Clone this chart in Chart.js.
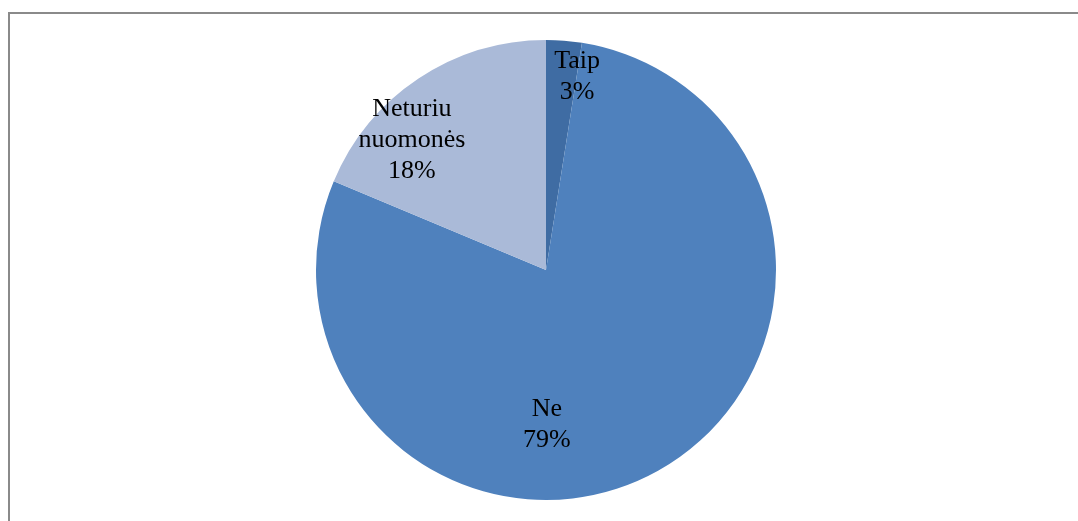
<!DOCTYPE html>
<html>
<head>
<meta charset="utf-8">
<script src="https://cdn.jsdelivr.net/npm/chart.js@4.4.0/dist/chart.umd.min.js"></script>
<style>
  html, body { margin: 0; padding: 0; background: #ffffff; }
  #wrap { position: relative; width: 1078px; height: 521px; overflow: hidden; }
  #frame { position: absolute; left: 8px; top: 12px; width: 1080px; height: 520px;
           border-left: 2px solid #8a8a8a; border-top: 2px solid #8a8a8a; box-sizing: border-box; }
  canvas { position: absolute; left: 0; top: 0; }
</style>
</head>
<body>
<div id="wrap">
  <div id="frame"></div>
  <canvas id="c" width="1078" height="521"></canvas>
</div>
<script>
// Data
const categories = ["Taip", "Ne", "Neturiu nuomonės"];
const labelLines = [["Taip"], ["Ne"], ["Neturiu", "nuomonės"]];
const values = [2.5, 78.8, 18.7];
const percentLabels = ["3%", "79%", "18%"];
const colors = ["#3F6CA3", "#4F81BD", "#AABAD8"];

// Label placement relative to pie center, as fraction of radius
const labelOffsets = [[0.135, -0.813], [0.004, 0.70], [-0.583, -0.535]];

const labelPlugin = {
  id: 'sliceLabels',
  afterDatasetsDraw(chart) {
    const ctx = chart.ctx;
    const meta = chart.getDatasetMeta(0);
    ctx.save();
    ctx.font = '26px "Liberation Serif", "Times New Roman", serif';
    ctx.fillStyle = '#000000';
    ctx.textAlign = 'center';
    ctx.textBaseline = 'alphabetic';
    const lh = 31;
    meta.data.forEach((arc, i) => {
      const cx = arc.x + labelOffsets[i][0] * arc.outerRadius;
      const cy = arc.y + labelOffsets[i][1] * arc.outerRadius;
      const lines = labelLines[i].concat([percentLabels[i]]);
      const n = lines.length;
      lines.forEach((t, k) => {
        const by = cy + (k - (n - 1) / 2) * lh;
        ctx.fillText(t, cx, by);
      });
    });
    ctx.restore();
  }
};

new Chart(document.getElementById('c'), {
  type: 'pie',
  data: {
    labels: categories,
    datasets: [{
      data: values,
      backgroundColor: colors,
      borderWidth: 0
    }]
  },
  options: {
    responsive: false,
    animation: false,
    layout: { padding: { left: 316, right: 302, top: 40, bottom: 21 } },
    plugins: {
      legend: { display: false },
      tooltip: { enabled: false }
    }
  },
  plugins: [labelPlugin]
});
</script>
</body>
</html>
